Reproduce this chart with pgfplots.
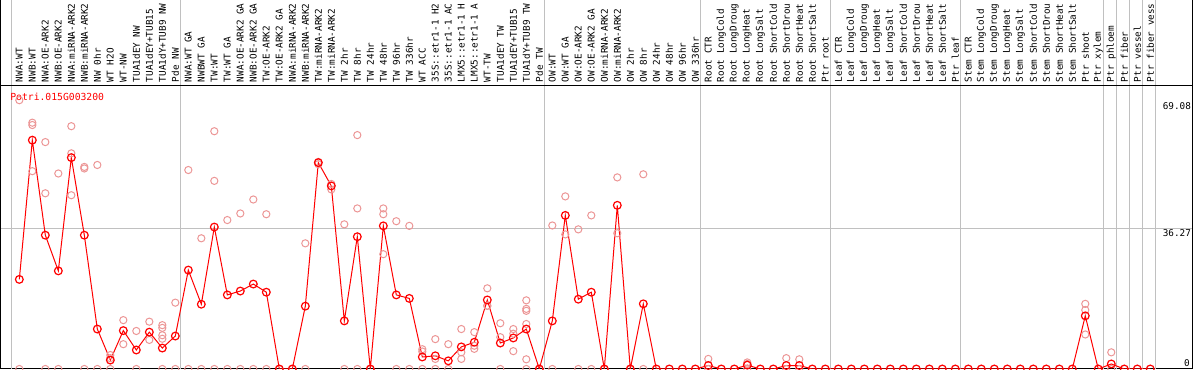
\documentclass[border=0pt]{standalone}
\usepackage{pgfplots}
\pgfplotsset{compat=1.18}
\usepackage{pgfplotstable}
\usepackage{fontspec}
\setmainfont{DejaVu Sans Mono}
\definecolor{gridgray}{RGB}{192,192,192}
\definecolor{reppink}{RGB}{236,150,150}
\definecolor{mainred}{RGB}{255,0,0}

\pgfplotstableread{
x y
1 23.1
2 59.0
3 34.5
4 25.3
5 54.5
6 34.5
7 10.3
8 2.3
9 9.9
10 4.9
11 9.5
12 5.4
13 8.5
14 25.5
15 16.7
16 36.6
17 19.1
18 20.1
19 21.9
20 19.8
21 0
22 0
23 16.2
24 53.2
25 47.2
26 12.4
27 34.1
28 0
29 36.9
30 19.1
31 18.2
32 3.1
33 3.4
34 2.1
35 5.7
36 6.9
37 17.8
38 6.7
39 8.0
40 10.3
41 0
42 12.4
43 39.6
44 18.0
45 19.8
46 0
47 42.2
48 0
49 16.8
50 0
51 0
52 0
53 0
54 0.9
55 0
56 0
57 1.0
58 0
59 0
60 0.9
61 0.9
62 0
63 0
64 0
65 0
66 0
67 0
68 0
69 0
70 0
71 0
72 0
73 0
74 0
75 0
76 0
77 0
78 0
79 0
80 0
81 0
82 0
83 13.7
84 0
85 1.3
86 0
87 0
88 0
}\meandata

\pgfplotstableread{
x y
1 69.3
1 0
2 63.5
2 62.9
2 51.0
3 58.5
3 45.3
3 0
4 50.4
4 0
5 62.6
5 55.6
5 44.8
6 52.1
6 51.7
6 0
7 52.6
7 0
8 3.6
8 2.8
8 0
9 12.6
9 6.4
10 9.8
10 0
11 12.2
11 7.5
12 11.3
12 10.6
12 8.7
12 7.8
12 0
13 17.1
13 0
14 51.3
14 0
15 33.7
15 0
16 61.3
16 48.5
16 0
17 38.4
17 0
18 40.1
18 0
19 43.7
19 0
20 39.9
20 0
21 0
22 0
23 32.4
23 0
24 53.4
24 52.8
25 47.7
25 46.3
26 37.3
26 0
27 60.3
27 41.4
27 0
28 0
29 41.4
29 39.9
29 29.6
30 38.1
30 0
31 36.9
31 0
32 5.1
32 4.5
32 0
33 7.7
33 2.6
33 0
34 6.4
34 0
35 10.3
35 4.3
35 2.6
36 9.5
36 6.0
36 5.2
37 20.8
37 16.3
37 16.3
38 11.8
38 8.2
38 0
39 10.3
39 9.1
39 4.6
40 17.7
40 15.5
40 15.0
40 11.6
40 2.5
40 0
41 0
42 37.0
42 0
43 44.5
43 34.7
44 36.0
44 0
45 39.6
45 0
46 0
47 49.4
47 35.0
48 0
49 50.2
49 0
54 2.6
54 0
57 1.7
57 1.3
57 0
60 2.8
60 0
61 2.5
61 0
83 16.8
83 15.2
83 8.9
85 4.3
85 0
}\repdata

\begin{document}
\begin{tikzpicture}
% header strip
\begin{axis}[
  name=header,
  at={(0pt,212.475pt)}, anchor=south west,
  scale only axis, width=893.25pt, height=64.275pt,
  xmin=-0.41, xmax=91.21, ymin=0, ymax=1,
  xtick={0.38,13.38,41.38,53.38,63.38,73.38,84.38,85.38,86.38,87.38,88.38},
  xticklabels={}, ytick=\empty,
  major tick length=0pt,
  xmajorgrids, grid style={gridgray, line width=0.75pt},
  axis line style={black, line width=0.75pt},
]
\end{axis}
% main plot
\begin{axis}[
  name=main,
  at={(0pt,0pt)}, anchor=south west,
  scale only axis, width=893.25pt, height=212.475pt,
  xmin=-0.41, xmax=91.21, ymin=0, ymax=73.04,
  axis line style={black, line width=0.75pt},
  major tick length=0pt,
  xtick={1,...,88},
  xticklabel pos=upper,
  xticklabels={NWA:WT,NWB:WT,NWA:OE-ARK2,NWB:OE-ARK2,NWA:miRNA-ARK2,NWB:miRNA-ARK2,NW 0hr,WT H2O,WT-NW,TUA1dEY NW,TUA1dEY+TUB15,TUA1dY+TUB9 NW,Pde NW,NWA:WT GA,NWBWT GA,TW:WT,TW:WT GA,NWA:OE-ARK2 GA,NWB:OE-ARK2 GA,TW:OE-ARK2,TW:OE-ARK2 GA,NWA:miRNA-ARK2,NWB:miRNA-ARK2,TW:miRNA-ARK2,TW:miRNA-ARK2,TW 2hr,TW 8hr,TW 24hr,TW 48hr,TW 96hr,TW 336hr,WT ACC,35S::etr1-1 H2,35S::etr1-1 AC,LMX5::etr1-1 H,LMX5::etr1-1 A,WT-TW,TUA1dEY TW,TUA1dEY+TUB15,TUA1dY+TUB9 TW,Pde TW,OW:WT,OW:WT GA,OW:OE-ARK2,OW:OE-ARK2 GA,OW:miRNA-ARK2,OW:miRNA-ARK2,OW 2hr,OW 8hr,OW 24hr,OW 48hr,OW 96hr,OW 336hr,Root CTR,Root LongCold,Root LongDroug,Root LongHeat,Root LongSalt,Root ShortCold,Root ShortDrou,Root ShortHeat,Root ShortSalt,Ptr root,Leaf CTR,Leaf LongCold,Leaf LongDroug,Leaf LongHeat,Leaf LongSalt,Leaf ShortCold,Leaf ShortDrou,Leaf ShortHeat,Leaf ShortSalt,Ptr leaf,Stem CTR,Stem LongCold,Stem LongDroug,Stem LongHeat,Stem LongSalt,Stem ShortCold,Stem ShortDrou,Stem ShortHeat,Stem ShortSalt,Ptr shoot,Ptr xylem,Ptr phloem,Ptr fiber,Ptr vessel,Ptr fiber vess},
  xticklabel style={rotate=90, anchor=west, font=\fontsize{7}{8}\selectfont, inner sep=2.5pt},
  extra x ticks={0.38,13.38,41.38,53.38,63.38,73.38,84.38,85.38,86.38,87.38,88.38},
  extra x tick labels={},
  extra x tick style={grid=major, major grid style={gridgray, line width=0.75pt}},
  ytick={36.27,69.08},
  yticklabels={36.27,69.08},
  yticklabel pos=right,
  yticklabel style={anchor=north east, inner sep=0.6pt, font=\fontsize{7}{8}\selectfont},
  extra y ticks={0},
  extra y tick labels={0},
  extra y tick style={yticklabel style={anchor=south east, inner sep=1.5pt}},
]
\draw[gridgray, line width=0.75pt] (axis cs:-0.41,36.27) -- (axis cs:91.21,36.27);
\addplot[only marks, mark=o, mark size=2.7pt, color=reppink, mark options={line width=0.75pt}] table {\repdata};
\addplot[mainred, line width=0.75pt, mark=o, mark size=2.9pt, mark options={line width=0.9pt}] table {\meandata};
\node[anchor=west, text=mainred, inner sep=0pt, font=\fontsize{7.3}{8}\selectfont] at (rel axis cs:0.0076,0.960) {Potri.015G003200};
\end{axis}
\pgfresetboundingbox
\path[use as bounding box] (-0.75pt,-0.75pt) rectangle (894.75pt,276.75pt);
\end{tikzpicture}
\end{document}
